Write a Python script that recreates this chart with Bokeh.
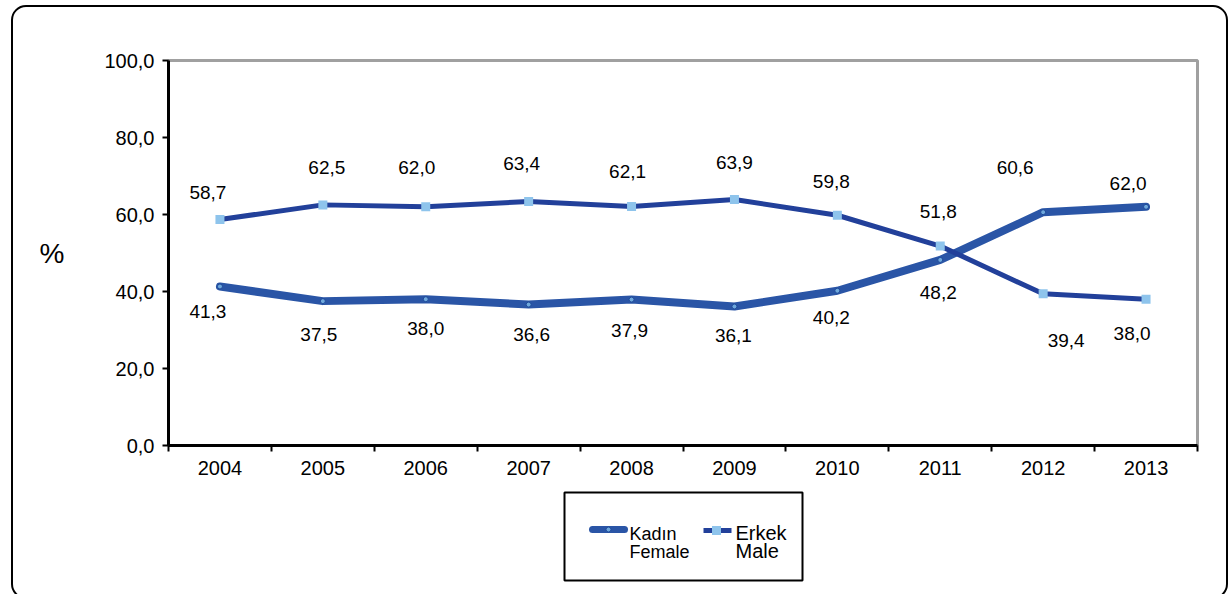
from bokeh.plotting import figure
from bokeh.layouts import column
from bokeh.models import (ColumnDataSource, FixedTicker, Range1d, InlineStyleSheet)
from bokeh.core.properties import value
from bokeh.embed import file_html
from bokeh.resources import INLINE

# ---- data ----
years = ["2004", "2005", "2006", "2007", "2008", "2009", "2010", "2011", "2012", "2013"]
female = [41.3, 37.5, 38.0, 36.6, 37.9, 36.1, 40.2, 48.2, 60.6, 62.0]
male = [58.7, 62.5, 62.0, 63.4, 62.1, 63.9, 59.8, 51.8, 39.4, 38.0]
y_ticks = [0, 20, 40, 60, 80, 100]
y_tick_labels = ["0,0", "20,0", "40,0", "60,0", "80,0", "100,0"]
female_name = ["Kadın", "Female"]
male_name = ["Erkek", "Male"]
y_title = "%"

# label placement offsets (pixels)
fem_dx = [-12, -4, 0, 3, -2, -1, -6, -2, -28, -18]
fem_dy = [25, 33, 29, 30, 31, 29, 27, 33, -45, -23]
male_dx = [-12, 4, -9, -7, -4, 0, -6, -2, 23, -14]
male_dy = [-27, -37, -39, -38, -35, -37, -34, -35, 47, 34]

FONT = "Liberation Sans"
C_FEM = "#2A55A6"
C_MALE = "#22409A"
C_MARK = "#8EC4EC"
C_DOT = "#6FA8DC"

xs = [i + 0.5 for i in range(len(years))]

def fmt(v):
    return ("%.1f" % v).replace(".", ",")

W = 1228
H1, H2 = 488, 106
p = figure(width=W, height=H1, output_backend="svg", toolbar_location=None,
           x_range=Range1d(0, 10), y_range=Range1d(0, 100), frame_align=False,
           min_border_left=168, min_border_right=31, min_border_top=60, min_border_bottom=43)
p.xgrid.visible = False
p.ygrid.visible = False
p.outline_line_color = "#A0A0A0"
p.outline_line_width = 3
p.background_fill_color = "white"
p.border_fill_color = "white"

# axes
p.yaxis.ticker = FixedTicker(ticks=y_ticks)
p.yaxis.major_label_overrides = {t: l for t, l in zip(y_ticks, y_tick_labels)}
p.yaxis.major_tick_out = 6
p.yaxis.major_tick_in = 0
p.yaxis.major_tick_line_width = 2
p.yaxis.minor_tick_line_color = None
p.yaxis.axis_line_width = 3
p.yaxis.axis_line_color = "black"
p.yaxis.major_label_text_font = FONT
p.yaxis.major_label_text_font_size = "20px"
p.yaxis.major_label_text_color = "black"
p.yaxis.major_label_standoff = 8
p.yaxis.axis_label = y_title
p.yaxis.axis_label_orientation = "horizontal"
p.yaxis.axis_label_text_font = FONT
p.yaxis.axis_label_text_font_style = "normal"
p.yaxis.axis_label_text_font_size = "28px"
p.yaxis.axis_label_text_color = "black"
p.yaxis.axis_label_standoff = 37

p.xaxis.ticker = FixedTicker(ticks=xs, minor_ticks=list(range(len(years) + 1)))
p.xaxis.major_label_overrides = {x: y for x, y in zip(xs, years)}
p.xaxis.major_tick_line_color = None
p.xaxis.minor_tick_out = 6
p.xaxis.minor_tick_in = 0
p.xaxis.minor_tick_line_width = 2
p.xaxis.minor_tick_line_color = "black"
p.xaxis.axis_line_width = 3
p.xaxis.axis_line_color = "black"
p.xaxis.major_label_text_font = FONT
p.xaxis.major_label_text_font_size = "20px"
p.xaxis.major_label_text_color = "black"
p.xaxis.major_label_standoff = 9

src = ColumnDataSource(dict(x=xs, female=female, male=male,
                            flab=[fmt(v) for v in female], mlab=[fmt(v) for v in male],
                            fdx=fem_dx, fdy=fem_dy, mdx=male_dx, mdy=male_dy))

# female series
p.line("x", "female", source=src, line_color=C_FEM, line_width=8,
       line_join="round", line_cap="round")
p.scatter("x", "female", source=src, marker="circle", size=5,
          fill_color=C_DOT, line_color="#1E4A9A", line_width=1)
# male series
p.line("x", "male", source=src, line_color=C_MALE, line_width=5, line_join="round")
p.scatter("x", "male", source=src, marker="square", size=9,
          fill_color=C_MARK, line_color=None)

# data labels
p.text("x", "female", text="flab", source=src, x_offset="fdx", y_offset="fdy",
       text_font=value(FONT), text_font_size="19px", text_color="black",
       text_align="center", text_baseline="middle")
p.text("x", "male", text="mlab", source=src, x_offset="mdx", y_offset="mdy",
       text_font=value(FONT), text_font_size="19px", text_color="black",
       text_align="center", text_baseline="middle")

# ---- legend panel (its own small figure; the frame is the legend box) ----
LW, LH = 238, 88
lg = figure(width=W, height=H2, output_backend="svg", toolbar_location=None,
            x_range=Range1d(0, LW), y_range=Range1d(0, LH), frame_align=False,
            min_border_left=564, min_border_right=W - 564 - LW,
            min_border_top=4, min_border_bottom=H2 - 4 - LH)
lg.axis.visible = False
lg.grid.visible = False
lg.outline_line_color = "black"
lg.outline_line_width = 2
lg.outline_line_alpha = 1
lg.background_fill_color = "white"
lg.border_fill_color = "white"

lg.line([28, 60], [51, 51], line_color=C_FEM, line_width=7, line_cap="round")
lg.scatter([44], [51], marker="circle", size=5, fill_color=C_DOT,
           line_color="#1E4A9A", line_width=1)
lg.line([139, 167], [50, 50], line_color=C_MALE, line_width=5)
lg.scatter([152], [50], marker="square", size=9, fill_color=C_MARK, line_color=None)

lg.text([65, 65], [47, 29], text=female_name, text_font=value(FONT),
        text_font_size="18px", text_color="black", text_align="left",
        text_baseline="middle")
lg.text([171, 171], [48, 30], text=male_name, text_font=value(FONT),
        text_font_size="20px", text_color="black", text_align="left",
        text_baseline="middle")

layout = column(p, lg, spacing=0)
layout.stylesheets = [InlineStyleSheet(css="""
:host { position: relative; overflow: hidden; }
:host::after { content: ""; position: absolute; left: 11px; top: 5px;
  width: 1217px; height: 594px; box-sizing: border-box;
  border: 2px solid #000; border-radius: 15px; pointer-events: none; }
""")]

open("out.html", "w").write(file_html(layout, INLINE))
